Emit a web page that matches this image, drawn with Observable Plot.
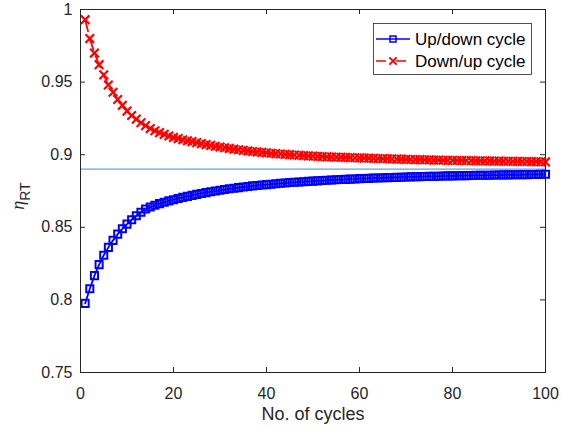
<!DOCTYPE html>
<html><head><meta charset="utf-8">
<script src="https://cdn.jsdelivr.net/npm/d3@7"></script>
<script src="https://cdn.jsdelivr.net/npm/@observablehq/plot@0.6"></script>
<style>
html,body{margin:0;padding:0;background:#fff;}
#chart{width:563px;height:430px;}
</style></head><body><div id="chart"></div>
<script>
// Up/down cycle efficiency, cycles 1..100
const upDown = [
0.7976,0.8077,0.8167,0.8243,0.8308,0.8362,0.8410,0.8453,0.8490,0.8522,
0.8552,0.8579,0.8604,0.8626,0.8640,0.8652,0.8663,0.8673,0.8682,0.8690,
0.8698,0.8706,0.8713,0.8720,0.8727,0.8733,0.8739,0.8745,0.8750,0.8755,
0.8760,0.8765,0.8769,0.8773,0.8777,0.8781,0.8785,0.8788,0.8791,0.8794,
0.8797,0.8800,0.8803,0.8805,0.8808,0.8810,0.8812,0.8814,0.8816,0.8818,
0.8820,0.8822,0.8824,0.8826,0.8827,0.8829,0.8830,0.8832,0.8833,0.8835,
0.8836,0.8837,0.8839,0.8840,0.8841,0.8842,0.8843,0.8844,0.8845,0.8846,
0.8847,0.8848,0.8849,0.8850,0.8851,0.8851,0.8852,0.8853,0.8854,0.8854,
0.8855,0.8856,0.8856,0.8857,0.8858,0.8858,0.8859,0.8859,0.8860,0.8860,
0.8861,0.8861,0.8862,0.8862,0.8863,0.8863,0.8864,0.8864,0.8865,0.8865];
// Down/up cycle efficiency, cycles 1..100
const downUp = [
0.9930,0.9800,0.9700,0.9620,0.9550,0.9480,0.9430,0.9380,0.9340,0.9300,
0.9270,0.9245,0.9220,0.9200,0.9180,0.9165,0.9152,0.9140,0.9129,0.9119,
0.9111,0.9103,0.9096,0.9090,0.9083,0.9076,0.9070,0.9064,0.9058,0.9053,
0.9048,0.9043,0.9038,0.9034,0.9030,0.9026,0.9022,0.9019,0.9016,0.9013,
0.9010,0.9007,0.9005,0.9002,0.9000,0.8998,0.8996,0.8994,0.8992,0.8990,
0.8988,0.8987,0.8985,0.8984,0.8983,0.8982,0.8981,0.8980,0.8979,0.8978,
0.8977,0.8976,0.8975,0.8974,0.8973,0.8972,0.8971,0.8970,0.8969,0.8968,
0.8967,0.8966,0.8966,0.8965,0.8964,0.8963,0.8963,0.8962,0.8961,0.8961,
0.8960,0.8960,0.8959,0.8959,0.8958,0.8958,0.8957,0.8957,0.8956,0.8956,
0.8955,0.8955,0.8954,0.8954,0.8953,0.8953,0.8952,0.8952,0.8951,0.8950];
const cycles = d3.range(1, 101);
const xTicks = [0, 20, 40, 60, 80, 100];
const yTicks = [0.75, 0.8, 0.85, 0.9, 0.95, 1];
const yTickLabels = ["0.75", "0.8", "0.85", "0.9", "0.95", "1"];
const refLevel = 0.89;
const seriesNames = ["Up/down cycle", "Down/up cycle"];
const xLabel = "No. of cycles";

const up = cycles.map((n, i) => ({n, v: upDown[i]}));
const down = cycles.map((n, i) => ({n, v: downUp[i]}));

const W = 563, H = 430, mL = 80, mR = 18, mT = 9, mB = 58;
const frameH = H - mT - mB, frameW = W - mL - mR;
const axisColor = "#262626";
const font = "'Liberation Sans', Arial, Helvetica, sans-serif";
const blue = "#0000FF", red = "#FF0000";

const chart = Plot.plot({
  width: W, height: H,
  marginLeft: mL, marginRight: mR, marginTop: mT, marginBottom: mB,
  style: {fontFamily: font, fontSize: "16px", color: axisColor, background: "#fff", overflow: "visible"},
  x: {domain: [0, 100]},
  y: {domain: [0.75, 1]},
  marks: [
    Plot.ruleY([refLevel], {stroke: "#5FA6DA", strokeWidth: 1.2}),
    Plot.line(up, {x: "n", y: "v", stroke: blue, strokeWidth: 1.8}),
    Plot.dot(up, {x: "n", y: "v", symbol: "square", r: 4, stroke: blue, strokeWidth: 2, fill: "none"}),
    Plot.line(down, {x: "n", y: "v", stroke: red, strokeWidth: 1.8, strokeDasharray: "12,7"}),
    Plot.dot(down, {x: "n", y: "v", symbol: "times", r: 4, stroke: red, strokeWidth: 2.2}),
    Plot.ruleX(xTicks, {x: d => d, insetTop: frameH - 5, stroke: axisColor}),
    Plot.ruleX(xTicks, {x: d => d, insetBottom: frameH - 5, stroke: axisColor}),
    Plot.ruleY(yTicks, {y: d => d, insetRight: frameW - 5, stroke: axisColor}),
    Plot.ruleY(yTicks, {y: d => d, insetLeft: frameW - 5, stroke: axisColor}),
    Plot.frame({stroke: axisColor}),
    Plot.axisX(xTicks, {tickSize: 0, tickPadding: 15, label: null, fontSize: 16}),
    Plot.axisY(yTicks, {tickSize: 0, tickPadding: 8, tickFormat: (d, i) => yTickLabels[i], label: null, fontSize: 16}),
    Plot.text([xLabel], {frameAnchor: "bottom", dy: 47, fontSize: 18, fill: axisColor, lineAnchor: "bottom"})
  ]
});

const svg = d3.select(chart);

// y-axis label: eta with subscript RT
const yl = svg.append("text")
  .attr("transform", "translate(24,196) rotate(-90)")
  .attr("text-anchor", "middle")
  .attr("fill", axisColor)
  .attr("font-family", font)
  .attr("font-size", 18);
yl.append("tspan").attr("font-family", "'Liberation Serif', 'DejaVu Serif', serif").attr("font-style", "italic").text("η");
yl.append("tspan").attr("dy", 6).attr("font-size", 14).text("RT");

// legend
const lg = svg.append("g");
lg.append("rect").attr("x", 373.5).attr("y", 23.5).attr("width", 158).attr("height", 51)
  .attr("fill", "#fff").attr("stroke", axisColor).attr("stroke-width", 0.8);
const rows = [
  {name: seriesNames[0], color: blue, sym: d3.symbolSquare, dash: null, sw: 1.5, y: 39},
  {name: seriesNames[1], color: red, sym: d3.symbolTimes, dash: "10,10", sw: 2, y: 61}
];
rows.forEach(r => {
  lg.append("line").attr("x1", 376).attr("x2", 410).attr("y1", r.y).attr("y2", r.y)
    .attr("stroke", r.color).attr("stroke-width", 1.5).attr("stroke-dasharray", r.dash);
  lg.append("path").attr("d", d3.symbol(r.sym, 36)()).attr("transform", `translate(393,${r.y})`)
    .attr("fill", "none").attr("stroke", r.color).attr("stroke-width", r.sw);
  lg.append("text").attr("x", 415).attr("y", r.y).attr("dy", "0.35em")
    .attr("text-anchor", "start")
    .attr("font-family", font).attr("font-size", 17).attr("fill", "#000").text(r.name);
});

document.getElementById("chart").appendChild(chart);
</script></body></html>
